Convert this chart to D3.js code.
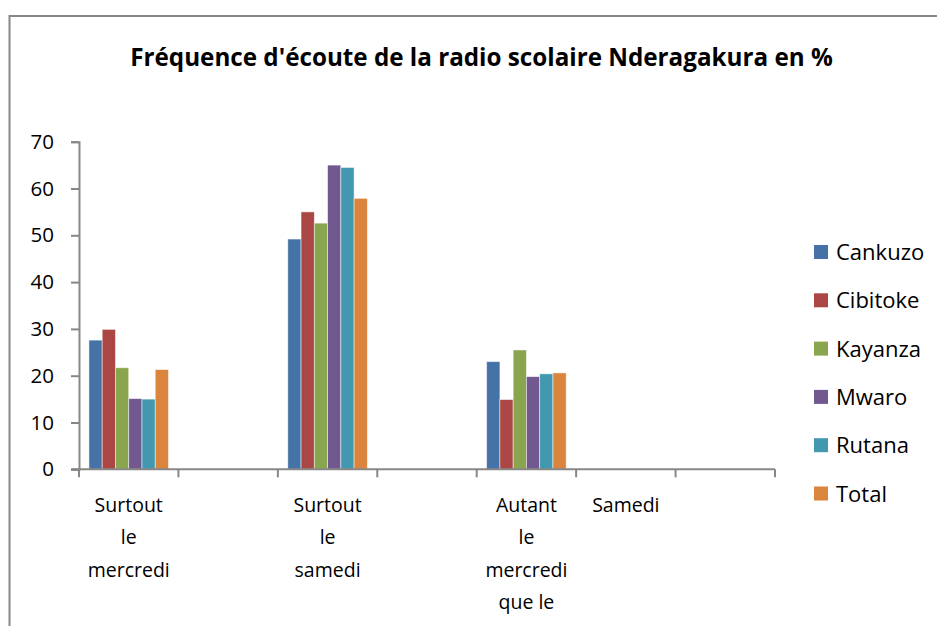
<!DOCTYPE html>
<html>
<head>
<meta charset="utf-8">
<script src="https://cdn.jsdelivr.net/npm/d3@7"></script>
<style>
  html, body { margin: 0; padding: 0; background: #fff; }
  svg { display: block; font-family: "Open Sans", Lato, sans-serif; }
</style>
</head>
<body>
<svg id="chart" width="937" height="626"></svg>
<script>
// Category slots along the horizontal axis (empty slots keep their place)
const categories = ["Surtout le mercredi", "", "Surtout le samedi", "", "Autant le mercredi que le", "Samedi", ""];
const seriesNames = ["Cankuzo", "Cibitoke", "Kayanza", "Mwaro", "Rutana", "Total"];
const seriesColors = ["#4572A7", "#AA4643", "#89A54E", "#71588F", "#4198AF", "#DB843D"];

// Percentages per province, one value per category slot
const cankuzo  = [27.6, null, 49.2, null, 23.0, null, null];
const cibitoke = [29.9, null, 55.0, null, 14.9, null, null];
const kayanza  = [21.7, null, 52.6, null, 25.5, null, null];
const mwaro    = [15.1, null, 65.0, null, 19.8, null, null];
const rutana   = [15.0, null, 64.5, null, 20.4, null, null];
const total    = [21.3, null, 57.9, null, 20.6, null, null];
const seriesValues = [cankuzo, cibitoke, kayanza, mwaro, rutana, total];

const yTicks = [0, 10, 20, 30, 40, 50, 60, 70];
const titleText = "Fréquence d'écoute de la radio scolaire Nderagakura en %";

const svg = d3.select("#chart");
const axisColor = "#878787";
const fontFamily = "'Open Sans', Lato, sans-serif";

// Chart-area frame (top and left edges)
svg.append("path")
  .attr("d", "M9.5,626 V16 H937")
  .attr("fill", "none")
  .attr("stroke", axisColor)
  .attr("stroke-width", 2);

// Title, fitted to its width
const title = svg.append("text")
  .attr("x", 481.5)
  .attr("y", 66)
  .attr("text-anchor", "middle")
  .attr("font-weight", "bold")
  .attr("font-size", 20)
  .attr("fill", "#000")
  .text(titleText);
const tw = title.node().getComputedTextLength();
title.attr("font-size", 20 * 703 / tw);

// Scales
const x0 = d3.scaleBand().domain(d3.range(categories.length)).range([79, 775]).padding(0);
const bw = x0.bandwidth();
const x1 = d3.scaleBand().domain(seriesNames).range([bw * 0.1, bw * 0.9]).padding(0);
const y = d3.scaleLinear().domain([0, 70]).range([469.3, 141.7]);

// Bars
const rows = [];
seriesNames.forEach((s, si) => {
  seriesValues[si].forEach((v, ci) => {
    if (v !== null) rows.push({ s, si, ci, v });
  });
});
svg.append("g").selectAll("rect")
  .data(rows)
  .join("rect")
  .attr("x", d => x0(d.ci) + x1(d.s))
  .attr("y", d => y(d.v))
  .attr("width", x1.bandwidth())
  .attr("height", d => y(0) - y(d.v))
  .attr("fill", d => seriesColors[d.si])
  .attr("stroke", "rgba(255,255,255,0.6)")
  .attr("stroke-width", 0.8);

// Y axis
const yAxis = svg.append("g")
  .attr("transform", "translate(79,0)")
  .call(d3.axisLeft(y).tickValues(yTicks).tickSize(8).tickPadding(17).tickFormat(d3.format("d")));
yAxis.select(".domain").attr("stroke", axisColor).attr("stroke-width", 2);
yAxis.selectAll(".tick line").attr("stroke", axisColor).attr("stroke-width", 2);
yAxis.selectAll(".tick text")
  .attr("font-size", 20.5)
  .attr("font-family", fontFamily)
  .attr("fill", "#000");

// X axis: line with tick marks at slot boundaries
const xAxis = svg.append("g").attr("transform", `translate(0,${y(0)})`);
xAxis.append("line")
  .attr("x1", 71).attr("x2", 775)
  .attr("stroke", axisColor).attr("stroke-width", 2);
const bounds = d3.range(categories.length + 1).map(i => i < categories.length ? x0(i) : x0(i - 1) + bw);
xAxis.selectAll("line.tk")
  .data(bounds)
  .join("line")
  .attr("class", "tk")
  .attr("x1", d => d).attr("x2", d => d)
  .attr("y1", 0).attr("y2", 8)
  .attr("stroke", axisColor).attr("stroke-width", 2);

// Category labels, wrapped word by word
const labelSize = 19.5;
const probe = svg.append("text").attr("font-size", labelSize).text("mercredi");
const maxW = probe.node().getComputedTextLength() * 0.96;
probe.remove();
const measure = svg.append("text").attr("font-size", labelSize);
function wrap(str) {
  const words = str.split(" ").filter(w => w);
  const lines = [];
  let cur = "";
  words.forEach(w => {
    const test = cur ? cur + " " + w : w;
    measure.text(test);
    if (cur && measure.node().getComputedTextLength() > maxW) {
      lines.push(cur);
      cur = w;
    } else cur = test;
  });
  if (cur) lines.push(cur);
  return lines;
}
const labels = svg.append("g");
categories.forEach((c, i) => {
  const lines = wrap(c);
  const t = labels.append("text")
    .attr("text-anchor", "middle")
    .attr("font-size", labelSize)
    .attr("fill", "#000");
  lines.forEach((ln, k) => {
    t.append("tspan")
      .attr("x", x0(i) + bw / 2)
      .attr("y", 511.5 + k * 32.5)
      .text(ln);
  });
});
measure.remove();

// Legend
const legend = svg.append("g");
seriesNames.forEach((s, i) => {
  const cy = 252.5 + i * 48.3;
  legend.append("rect")
    .attr("x", 814).attr("y", cy - 7.5)
    .attr("width", 14).attr("height", 14)
    .attr("fill", seriesColors[i]);
  legend.append("text")
    .attr("x", 836).attr("y", cy + 7.5)
    .attr("font-size", 22)
    .attr("fill", "#000")
    .text(s);
});
</script>
</body>
</html>
